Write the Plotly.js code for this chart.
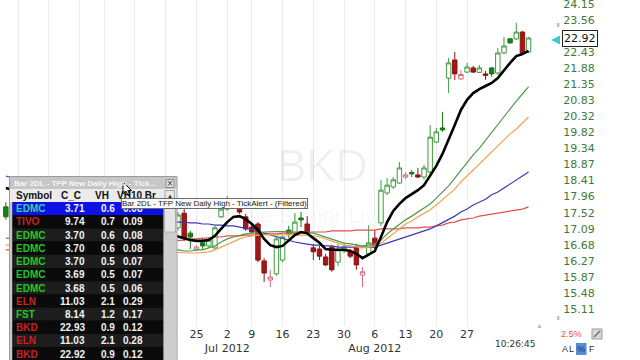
<!DOCTYPE html>
<html><head><meta charset="utf-8">
<script src="https://cdn.plot.ly/plotly-3.0.1.min.js"></script>
<style>html,body{margin:0;padding:0;background:#fff;}#chart{width:640px;height:360px;}</style>
</head><body><div id="chart"></div>
<script>
// ---------- data ----------
const dates = ['2012-05-10',
'2012-06-20','2012-06-21','2012-06-22',
'2012-06-25','2012-06-26','2012-06-27','2012-06-28','2012-06-29',
'2012-07-02','2012-07-03','2012-07-05','2012-07-06',
'2012-07-09','2012-07-10','2012-07-11','2012-07-12','2012-07-13',
'2012-07-16','2012-07-17','2012-07-18','2012-07-19','2012-07-20',
'2012-07-23','2012-07-24','2012-07-25','2012-07-26','2012-07-27',
'2012-07-30','2012-07-31','2012-08-01','2012-08-02','2012-08-03',
'2012-08-06','2012-08-07','2012-08-08','2012-08-09','2012-08-10',
'2012-08-13','2012-08-14','2012-08-15','2012-08-16','2012-08-17',
'2012-08-20','2012-08-21','2012-08-22','2012-08-23','2012-08-24',
'2012-08-27','2012-08-28','2012-08-29','2012-08-30','2012-08-31',
'2012-09-04','2012-09-05','2012-09-06','2012-09-07',
'2012-09-10','2012-09-11'];

const open = [17.68, 17.12,17.51,16.98, 16.55,16.73,16.65,16.60,17.41, 17.62,17.70,17.73,17.41, 17.14,17.22,16.27,15.80,15.95, 16.29,17.06,16.98,17.38,17.22, 16.60,16.57,16.37,16.62,16.24, 16.52,16.50,16.62,15.92,16.45, 16.85,17.25,18.06,18.23,18.34, 18.51,18.64,18.57,18.51,18.65, 19.53,19.96,21.55,22.16,21.52, 21.75,21.89,21.74,21.69,21.89, 21.72,22.40,22.89,22.89, 23.13,22.43];
const high = [17.81, 17.54,17.62,17.04, 16.67,16.85,16.88,17.17,17.73, 17.98,17.89,17.79,17.49, 17.22,17.27,16.34,16.05,16.88, 16.91,17.17,17.51,17.54,17.43, 16.70,16.65,16.45,16.67,16.70, 16.70,16.57,16.70,16.12,17.19, 17.06,18.43,18.48,18.51,18.94, 18.65,18.71,18.77,18.86,20.05, 19.96,20.46,22.23,22.43,21.82, 22.06,21.96,21.99,21.79,21.92, 22.57,22.96,22.92,23.46, 23.17,22.96];
const low = [17.33, 17.06,16.78,16.57, 16.52,16.55,16.60,16.55,17.38, 17.57,17.65,17.49,17.04, 16.96,16.24,15.75,15.63,15.90, 16.24,16.85,16.96,17.14,16.96, 16.29,16.29,16.14,16.00,16.14, 16.47,16.34,16.05,15.63,16.39, 16.57,17.17,18.01,18.17,18.31, 18.45,18.51,18.48,18.43,18.60, 19.50,19.84,21.06,21.49,21.49, 21.72,21.72,21.72,21.49,21.59, 21.65,22.36,22.71,22.85, 22.36,22.40];
const close = [17.41, 17.46,16.83,16.88, 16.62,16.65,16.80,17.12,17.62, 17.79,17.87,17.54,17.09, 17.01,16.29,15.97,15.87,16.83, 16.88,16.96,17.27,17.33,16.98, 16.50,16.39,16.17,16.05,16.55, 16.62,16.39,16.17,16.00,16.73, 16.62,18.14,18.28,18.43,18.77, 18.57,18.60,18.51,18.77,19.68, 19.84,19.90,22.06,21.69,21.67, 21.92,21.75,21.89,21.64,21.69, 22.40,22.64,22.75,23.13, 22.40,22.92];

const maBlack = [18.20, 16.88,16.85,16.80, 16.78,16.78,16.80,16.91,17.09, 17.27,17.41,17.43,17.35, 17.22,17.06,16.83,16.67,16.62, 16.65,16.78,16.93,17.01,16.98, 16.85,16.73,16.57,16.55,16.55, 16.55,16.52,16.45,16.34,16.42, 16.52,16.88,17.27,17.57,17.76, 17.92,18.03,18.14,18.28,18.57, 18.83,19.18,19.59,20.05,20.52, 20.84,21.06,21.19,21.29,21.39, 21.55,21.82,22.06,22.29, 22.36,22.47];
const maGreen = [16.85, 16.55,16.52,16.52, 16.55,16.55,16.60,16.65,16.75, 16.83,16.88,16.93,16.96, 16.98,16.98,17.01,17.02,17.02, 17.02,17.01,17.01,17.01,17.00, 16.98,16.93,16.88,16.83,16.78, 16.72,16.70,16.67,16.65,16.67, 16.70,16.80,16.96,17.09,17.22, 17.33,17.43,17.54,17.65,17.76, 17.92,18.09,18.26,18.48,18.71, 18.94,19.15,19.35,19.59,19.81, 20.08,20.33,20.58,20.80, 21.03,21.26];
const maOrange = [16.67, 16.47,16.47,16.47, 16.47,16.48,16.50,16.55,16.62, 16.70,16.78,16.83,16.88, 16.91,16.93,16.94,16.94,16.94, 16.93,16.93,16.93,16.93,16.92, 16.91,16.88,16.83,16.78,16.72, 16.67,16.65,16.62,16.60,16.62, 16.65,16.72,16.85,16.96,17.09, 17.22,17.30,17.41,17.51,17.60, 17.73,17.87,18.01,18.17,18.37, 18.54,18.71,18.88,19.06,19.24, 19.41,19.59,19.78,19.93, 20.11,20.30];
const maBlue = [18.54, 17.27,17.27,17.25, 17.25,17.22,17.22,17.19,17.19, 17.17,17.17,17.14,17.12, 17.09,17.04,16.98,16.93,16.88, 16.83,16.78,16.75,16.72,16.70, 16.67,16.67,16.65,16.65,16.62, 16.62,16.62,16.62,16.62,16.62, 16.62,16.67,16.72,16.78,16.83, 16.88,16.93,16.98,17.04,17.09, 17.17,17.25,17.35,17.43,17.54, 17.62,17.73,17.81,17.89,18.01, 18.09,18.20,18.31,18.43, 18.54,18.65];
const maRed = [16.55, 16.80,16.80,16.83, 16.83,16.85,16.85,16.88,16.88, 16.91,16.91,16.91,16.93, 16.93,16.93,16.96,16.96,16.96, 16.98,16.98,16.98,16.98,17.01, 17.01,17.01,17.01,17.04,17.04, 17.04,17.04,17.06,17.06,17.06, 17.06,17.09,17.09,17.09,17.09, 17.12,17.12,17.12,17.14,17.14, 17.17,17.19,17.25,17.27,17.33, 17.35,17.38,17.43,17.46,17.49, 17.51,17.54,17.57,17.60, 17.62,17.68];

// weekly grid ticks; the ones under the alert window carry no visible label
const weekTicks = ['2012-05-14','2012-05-21','2012-05-29','2012-06-04','2012-06-11','2012-06-18','2012-06-25','2012-07-02','2012-07-09','2012-07-16','2012-07-23','2012-07-30','2012-08-06','2012-08-13','2012-08-20','2012-08-27'];
const weekLabels = ['','','','','','','25','2<br>Jul 2012','9','16','23','30','6<br>Aug 2012','13','20','27'];
const priceTicks = [15.11,15.48,15.87,16.27,16.68,17.09,17.52,17.96,18.41,18.87,19.34,19.82,20.32,20.83,21.35,21.88,22.43,23.56,24.15];
const lastPrice = 22.92;
const holidays = ['2012-05-28','2012-07-04','2012-09-03'];

const alertSymbols = ['EDMC','TIVO','EDMC','EDMC','EDMC','EDMC','EDMC','ELN','FST','BKD','ELN','BKD'];
const alertCC = ['3.71','9.74','3.70','3.70','3.70','3.69','3.68','11.03','8.14','22.93','11.03','22.92'];
const alertVH = ['0.6','0.7','0.6','0.6','0.5','0.5','0.5','2.1','1.2','0.9','2.1','0.9'];
const alertVH10 = ['0.08','0.09','0.08','0.08','0.07','0.07','0.06','0.29','0.17','0.12','0.28','0.12'];
const alertUp = [true,false,true,true,true,true,true,false,true,false,false,false];

// ---------- build ----------
const noon = d => d + ' 12:00';       // centre each bar inside its trading day
const X = dates.map(noon);
const upIdx = [], dnIdx = [];
close.forEach((c, i) => { (i === 0 || c >= close[i-1] ? upIdx : dnIdx).push(i); });
const pick = (a, idx) => idx.map(i => a[i]);

function candles(idx, inc, incFill, dec, decFill) {
  return {type:'candlestick', x:pick(X,idx), open:pick(open,idx), high:pick(high,idx), low:pick(low,idx), close:pick(close,idx),
    increasing:{line:{color:inc,width:1}, fillcolor:incFill},
    decreasing:{line:{color:dec,width:1}, fillcolor:decFill},
    whiskerwidth:0, hoverinfo:'skip', showlegend:false};
}
function ma(y, color, width) {
  return {type:'scatter', mode:'lines', x:X, y:y, line:{color:color, width:width}, hoverinfo:'skip', showlegend:false};
}
const traces = [
  ma(maRed, '#e05050', 1.2), ma(maBlue, '#3a3ab8', 1.2), ma(maOrange, '#f0a450', 1.2), ma(maGreen, '#4f9a4f', 1.2),
  ma(maBlack, '#000000', 2.6),
  candles(upIdx, '#3f9a3f', '#ffffff', '#167816', '#1a821a'),
  candles(dnIdx, '#d66a7c', '#ffffff', '#941414', '#a01818')
];

const PW = 548, PH = 326;
const px = v => v / PW, py = v => 1 - v / PH;
function box(x0, y0, x1, y1, fill, stroke) {
  return {type:'rect', xref:'paper', yref:'paper', layer:'above', x0:px(x0), x1:px(x1), y0:py(y1), y1:py(y0),
    fillcolor:fill, line:{width: stroke ? 1 : 0, color: stroke || 'rgba(0,0,0,0)'}};
}
function poly(pts, fill, stroke) {
  return {type:'path', xref:'paper', yref:'paper', layer:'above',
    path:'M ' + pts.map(p => px(p[0]) + ',' + py(p[1])).join(' L ') + ' Z',
    fillcolor:fill, line:{width: stroke ? 1 : 0, color: stroke || 'rgba(0,0,0,0)'}};
}
function txt(x, y, text, size, color, opts) {
  return Object.assign({xref:'paper', yref:'paper', x:px(x), y:py(y), text:text, showarrow:false,
    font:{family:'Liberation Sans', size:size, color:color}, xanchor:'center', yanchor:'middle', borderpad:0}, opts || {});
}

const shapes = [];
const ann = [];
// watermark
ann.push(txt(322, 166, 'BKD', 44, 'rgba(0,0,0,0.06)'));
ann.push(txt(289, 216, 'Brookdale Senior Living', 22, 'rgba(0,0,0,0.045)'));

// alert window
shapes.push(box(9.5, 176.5, 177, 364, '#c4c4c4', '#9a9a9a'));
shapes.push(box(10, 177, 176.5, 189, '#c6c6c6'));
shapes.push(box(166, 179.5, 174, 187.5, '#e2e2e2', '#8a8a8a'));
shapes.push(box(10, 189, 176.5, 202, '#ebebeb'));
shapes.push(box(10, 202, 12.5, 364, '#c8c8c8'));
shapes.push(box(12.5, 202, 163.5, 364, '#000000'));
const rowH = 13.2;
alertSymbols.forEach((s, i) => {
  const y0 = 202 + rowH * i;
  shapes.push(box(12.5, y0, 163.5, y0 + rowH, i === 0 ? '#0c12e6' : (i % 2 ? '#0a0a0a' : '#1d1d1d')));
});
shapes.push(box(163.5, 202, 176.5, 364, '#cdcdcd'));
shapes.push(box(164.5, 202.5, 175.5, 232, '#e6e6e6', '#b0b0b0'));
shapes.push(box(165, 190.5, 174.5, 201, '#e8e8e8', '#a0a0a0'));
// mouse cursor
const cur = [[0,0],[0,12],[3,9.2],[5.3,13.6],[7,12.9],[4.8,8.6],[8.6,8.6]].map(p => [123 + p[0], 182 + p[1]]);
shapes.push(poly(cur, '#ffffff', '#000000'));
// current price marker
shapes.push(poly([[551,40],[560,35.5],[560,44.5]], '#3fc9c9'));
// small widgets on the right
shapes.push(box(592, 329, 602, 339, '#d8d8d8', '#9c9c9c'));
shapes.push({type:'line', xref:'paper', yref:'paper', layer:'above', x0:px(594), y0:py(337), x1:px(600), y1:py(331), line:{color:'#707070', width:1.5}});
shapes.push(box(576, 343, 586.5, 355, '#5b8bd0'));
shapes.push(box(557, 23, 559.5, 27, '#c0c0c0'));
shapes.push(box(557, 316, 559.5, 320, '#c0c0c0'));

ann.push(txt(13, 183, '<b>Bar 2DL - TFP New Daily High - Tick...</b>', 8, '#f6f6f6', {xanchor:'left'}));
ann.push(txt(170, 183.5, '×', 10, '#333'));
ann.push(txt(169.8, 195.5, '▲', 6, '#333'));
ann.push(txt(15, 195.5, '<b>Symbol</b>', 10, '#111', {xanchor:'left'}));
ann.push(txt(60, 195, '<b>C_C</b>', 10, '#111', {xanchor:'left'}));
ann.push(txt(94, 195.5, '<b>VH</b>', 10, '#111', {xanchor:'left'}));
ann.push(txt(116, 195.5, '<b>VH10 Br</b>', 10, '#111', {xanchor:'left'}));
alertSymbols.forEach((s, i) => {
  const yc = 208.8 + rowH * i;
  const sc = i === 0 ? '#33d0a0' : (alertUp[i] ? '#22c822' : '#cc2020');
  ann.push(txt(15, yc, '<b>' + s + '</b>', 10, sc, {xanchor:'left'}));
  ann.push(txt(86, yc, '<b>' + alertCC[i] + '</b>', 10, '#f2f2f2', {xanchor:'right'}));
  ann.push(txt(116, yc, '<b>' + alertVH[i] + '</b>', 10, '#f2f2f2', {xanchor:'right'}));
  ann.push(txt(144, yc, '<b>' + alertVH10[i] + '</b>', 10, '#f2f2f2', {xanchor:'right'}));
});
// tooltip
ann.push(txt(121, 198, 'Bar 2DL - TFP New Daily High - TickAlert - (Filtered)', 8, '#222',
  {xanchor:'left', yanchor:'top', bgcolor:'#fcfcf6', bordercolor:'#6a6a6a', borderwidth:1, borderpad:0}));
// price tag + right widgets
ann.push(txt(579.5, 38.5, lastPrice.toFixed(2), 11, '#111',
  {font:{family:'DejaVu Sans', size:11, color:'#111'}, bgcolor:'#ffffff', bordercolor:'#222', borderwidth:1, borderpad:1}));
ann.push(txt(515, 344, '10:26:45', 9, '#333', {font:{family:'DejaVu Sans', size:9, color:'#333'}}));
ann.push(txt(560, 334, '2.5%', 9, '#e05050', {xanchor:'left'}));
ann.push(txt(564.5, 349, 'A', 9, '#333'));
ann.push(txt(571.5, 349, 'L', 9, '#333'));
ann.push(txt(581.3, 349, '%', 9, '#16357a'));
ann.push(txt(592, 349, 'F', 9, '#333'));
ann.push(txt(539, 325, '▲', 7, '#bdbdbd'));

const layout = {
  width:640, height:360, margin:{l:0, r:92, t:0, b:34},
  paper_bgcolor:'#ffffff', plot_bgcolor:'#ffffff', showlegend:false,
  boxgap:0.15, boxgroupgap:0.15,
  xaxis:{type:'date', range:['2012-05-09 13:10','2012-09-14 15:50'],
    rangebreaks:[{bounds:['sat','mon']}, {values:holidays}],
    tickmode:'array', tickvals:weekTicks.map(noon), ticktext:weekLabels, tickangle:0, automargin:false,
    showgrid:true, gridcolor:'#ececec', gridwidth:1, zeroline:false, showline:false, ticks:'',
    tickfont:{family:'DejaVu Sans', size:11, color:'#333'}, rangeslider:{visible:false}, fixedrange:true},
  yaxis:{type:'log', side:'right', range:[1.16794, 1.38559], tickmode:'array',
    tickvals:priceTicks, ticktext:priceTicks.map(v => v.toFixed(2)), ticklabeloverflow:'allow', automargin:false,
    showgrid:false, zeroline:false, showline:false, ticks:'outside', ticklen:12, tickcolor:'rgba(0,0,0,0)',
    tickfont:{family:'DejaVu Sans', size:11, color:'#3b7b3b'}, fixedrange:true},
  shapes:shapes, annotations:ann
};
Plotly.newPlot('chart', traces, layout, {staticPlot:true, displayModeBar:false});
</script>
</body></html>
